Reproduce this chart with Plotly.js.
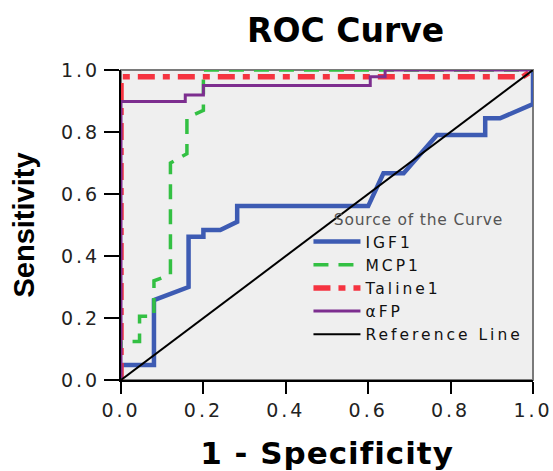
<!DOCTYPE html>
<html>
<head>
<meta charset="utf-8">
<script src="https://cdn.plot.ly/plotly-3.0.1.min.js"></script>
<style>
  html, body { margin: 0; padding: 0; background: #fff; }
  #chart { width: 553px; height: 471px; }
  .xtick text, .ytick text { letter-spacing: 3px; }
  .legendtext { letter-spacing: 3px; }
  .legendtitletext { letter-spacing: 0.8px; }
  .xtitle { letter-spacing: 1px; }
</style>
</head>
<body>
<div id="chart"></div>
<script>
// ROC curve coordinates (1 - specificity, sensitivity)
var igf1X = [0, 0, 0.08, 0.08, 0.164, 0.164, 0.2, 0.2, 0.241, 0.282, 0.282, 0.6, 0.637, 0.686, 0.767, 0.884, 0.884, 0.92, 1.0, 1.0];
var igf1Y = [0, 0.048, 0.048, 0.258, 0.30, 0.462, 0.462, 0.484, 0.484, 0.51, 0.561, 0.561, 0.667, 0.667, 0.79, 0.79, 0.844, 0.844, 0.89, 1.0];

var mcp1X = [0, 0, 0.045, 0.045, 0.08, 0.08, 0.12, 0.12, 0.16, 0.16, 0.2, 0.2, 1.0];
var mcp1Y = [0, 0.124, 0.124, 0.206, 0.206, 0.32, 0.34, 0.70, 0.73, 0.845, 0.87, 1.0, 1.0];

var taline1X = [0, 0, 0.975, 1.0];
var taline1Y = [0, 0.978, 0.978, 1.0];

var afpX = [0, 0, 0.156, 0.156, 0.2, 0.2, 0.605, 0.605, 0.641, 0.641, 1.0];
var afpY = [0, 0.898, 0.898, 0.919, 0.919, 0.95, 0.95, 0.978, 0.978, 1.0, 1.0];

var refX = [0, 1];
var refY = [0, 1];

var seriesNames = ["IGF1", "MCP1", "Taline1", "\u03b1FP", "Reference Line"];
var tickVals = [0, 0.2, 0.4, 0.6, 0.8, 1.0];
var tickText = ["0.0", "0.2", "0.4", "0.6", "0.8", "1.0"];

var traces = [
  {x: igf1X, y: igf1Y, name: seriesNames[0], mode: "lines",
   line: {color: "#3d5bb3", width: 4.5}},
  {x: mcp1X, y: mcp1Y, name: seriesNames[1], mode: "lines",
   line: {color: "#33c043", width: 3.5, dash: "15px,10px"}},
  {x: taline1X, y: taline1Y, name: seriesNames[2], mode: "lines",
   line: {color: "#f53340", width: 5.5, dash: "17px,8px,7px,8px"}},
  {x: afpX, y: afpY, name: seriesNames[3], mode: "lines",
   line: {color: "#7d2e8f", width: 3}},
  {x: refX, y: refY, name: seriesNames[4], mode: "lines",
   line: {color: "#000000", width: 2}}
];

var tickFont = {family: "DejaVu Sans", size: 19, color: "#222"};

var layout = {
  width: 553, height: 471,
  margin: {l: 121, r: 20, t: 70, b: 91, pad: 0},
  paper_bgcolor: "#ffffff",
  plot_bgcolor: "#efefef",
  showlegend: true,
  title: {
    text: "ROC Curve",
    font: {family: "DejaVu Sans", size: 33, weight: "bold", color: "#000"},
    x: 0.625, xref: "container", xanchor: "center",
    y: 0.936, yref: "container", yanchor: "middle"
  },
  xaxis: {
    range: [0, 1], tickvals: tickVals, ticktext: tickText,
    showgrid: false, zeroline: false,
    showline: true, linecolor: "#000", linewidth: 2,
    ticks: "outside", ticklen: 12, tickwidth: 2, tickcolor: "#000",
    tickfont: tickFont,
    title: {text: "1 - Specificity", standoff: 24,
      font: {family: "DejaVu Sans", size: 31, weight: "bold", color: "#000"}},
    fixedrange: true
  },
  yaxis: {
    range: [0, 1], tickvals: tickVals, ticktext: tickText,
    showgrid: false, zeroline: false,
    showline: true, linecolor: "#000", linewidth: 2,
    ticks: "outside", ticklen: 15, tickwidth: 2, tickcolor: "#000",
    tickfont: tickFont,
    title: {text: "Sensitivity", standoff: 18,
      font: {family: "Liberation Sans", size: 29, weight: "bold", color: "#000"}},
    fixedrange: true
  },
  shapes: [
    {type: "rect", xref: "paper", yref: "paper", x0: 0, y0: 0, x1: 1, y1: 1,
     line: {color: "#7a7a7a", width: 2}, fillcolor: "rgba(0,0,0,0)", layer: "below"}
  ],
  legend: {
    x: 0.455, y: 0.565, xanchor: "left", yanchor: "top",
    bgcolor: "rgba(0,0,0,0)", borderwidth: 0,
    itemwidth: 47,
    font: {family: "DejaVu Sans", size: 15.5, color: "#111"},
    tracegroupgap: 0,
    title: {text: "Source of the Curve", side: "top center",
      font: {family: "DejaVu Sans", size: 15.5, color: "#555"}}
  }
};

Plotly.newPlot("chart", traces, layout, {displayModeBar: false, staticPlot: true});
</script>
</body>
</html>
